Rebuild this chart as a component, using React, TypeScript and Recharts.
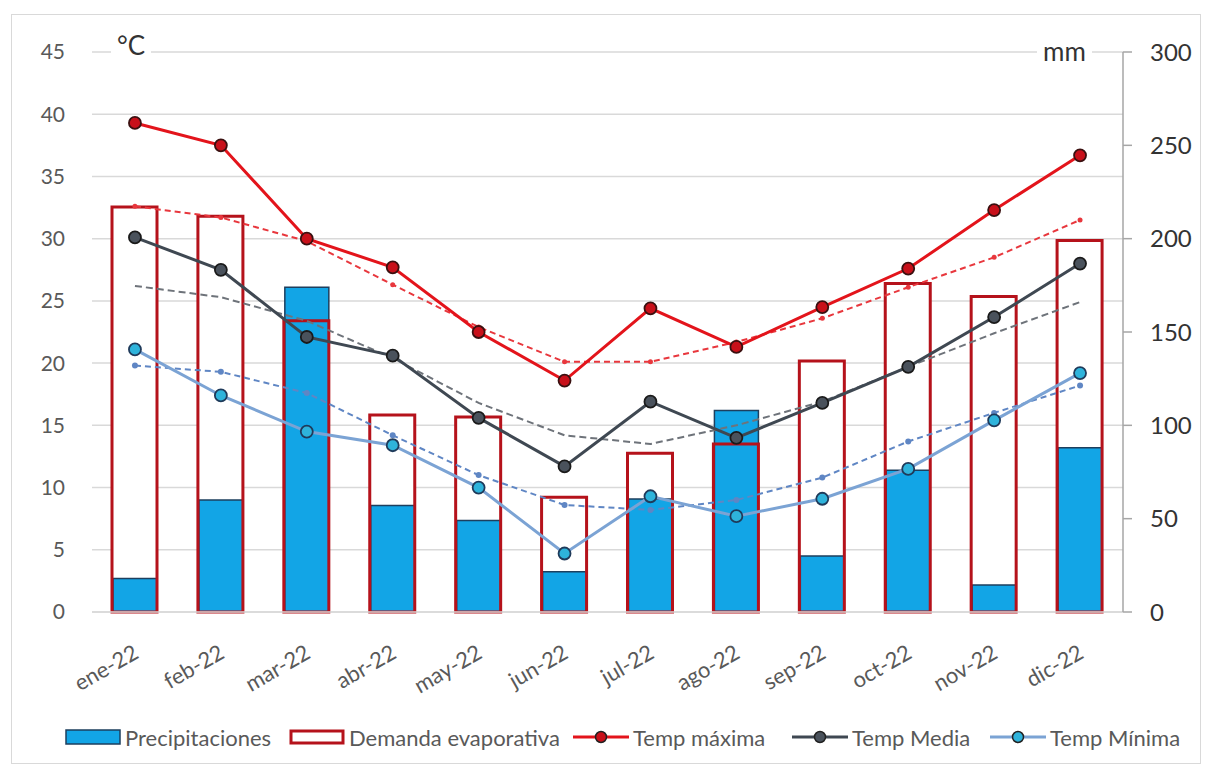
import React from 'react';
import { ComposedChart, Bar, Line, XAxis, YAxis, CartesianGrid, Legend } from 'recharts';

const months = ['ene-22', 'feb-22', 'mar-22', 'abr-22', 'may-22', 'jun-22', 'jul-22', 'ago-22', 'sep-22', 'oct-22', 'nov-22', 'dic-22'];
const precipitaciones = [18, 60, 174, 57, 49, 21.5, 60.5, 108, 30, 76, 14.5, 88];
const demandaEvaporativa = [217, 212, 156, 105.5, 104.5, 61.5, 85, 90, 134.5, 176, 169, 199];
const tempMaxima = [39.3, 37.5, 30.0, 27.7, 22.5, 18.6, 24.4, 21.3, 24.5, 27.6, 32.3, 36.7];
const tempMedia = [30.1, 27.5, 22.1, 20.6, 15.6, 11.7, 16.9, 14.0, 16.8, 19.7, 23.7, 28.0];
const tempMinima = [21.1, 17.4, 14.5, 13.4, 10.0, 4.7, 9.3, 7.7, 9.1, 11.5, 15.4, 19.2];
// dashed trend lines
const tendMaxima = [32.6, 31.7, 29.8, 26.3, 22.9, 20.1, 20.1, 21.7, 23.6, 26.1, 28.5, 31.5];
const tendMedia = [26.2, 25.3, 23.4, 20.4, 16.8, 14.2, 13.5, 15.0, 16.9, 19.7, 22.4, 24.9];
const tendMinima = [19.8, 19.3, 17.6, 14.2, 11.0, 8.6, 8.2, 9.0, 10.8, 13.7, 16.0, 18.2];

const tempTicks = [0, 5, 10, 15, 20, 25, 30, 35, 40, 45];
const mmTicks = [0, 50, 100, 150, 200, 250, 300];

const data = months.map((mes, i) => ({
  mes,
  precip: precipitaciones[i],
  demanda: demandaEvaporativa[i],
  tmax: tempMaxima[i],
  tmed: tempMedia[i],
  tmin: tempMinima[i],
  trMax: tendMaxima[i],
  trMed: tendMedia[i],
  trMin: tendMinima[i],
}));

const FONT = 'Lato, "Open Sans", sans-serif';
const TEXT = '#595959';
const RED = '#E3141B';
const DARK = '#3F4852';
const LIGHT = '#7BA3D4';
const BLUE_BAR = '#12A5E6';
const RED_BAR = '#B5121B';

const MonthTick = (props: any) => {
  const { x, y, payload } = props;
  return (
    <text
      transform={`translate(${x + 5},${y + 45}) rotate(-30)`}
      textAnchor="end"
      fontFamily={FONT}
      fontSize={22}
      fill={TEXT}
    >
      {payload.value}
    </text>
  );
};

const legendItems = [
  { name: 'Precipitaciones', kind: 'bar', left: 65 },
  { name: 'Demanda evaporativa', kind: 'box', left: 289 },
  { name: 'Temp máxima', kind: 'line', left: 573, stroke: RED, fill: '#C8101A' },
  { name: 'Temp Media', kind: 'line', left: 792, stroke: DARK, fill: '#4A525C' },
  { name: 'Temp Mínima', kind: 'line', left: 990, stroke: LIGHT, fill: '#2EB3DB' },
];

const LegendContent = () => (
  <div style={{ position: 'relative', height: 38, fontFamily: FONT, fontSize: 22, color: TEXT }}>
    {legendItems.map((it) => (
      <div
        key={it.name}
        style={{ position: 'absolute', left: it.left, top: 0, height: 38, display: 'flex', alignItems: 'center' }}
      >
        <svg width={56} height={20} style={{ marginRight: 4 }}>
          {it.kind === 'bar' && <rect x={1} y={3} width={54} height={14} fill={BLUE_BAR} stroke="#1d3f5e" strokeWidth={1.5} />}
          {it.kind === 'box' && <rect x={2} y={4} width={52} height={12} fill="#fff" stroke={RED_BAR} strokeWidth={3} />}
          {it.kind === 'line' && (
            <>
              <line x1={0} y1={10} x2={56} y2={10} stroke={it.stroke} strokeWidth={3} />
              <circle cx={28} cy={10} r={5.5} fill={it.fill} stroke="#222" strokeWidth={1.5} />
            </>
          )}
        </svg>
        <span>{it.name}</span>
      </div>
    ))}
  </div>
);

const unitStyle: React.CSSProperties = {
  position: 'absolute',
  background: '#fff',
  fontFamily: FONT,
  color: '#333',
  lineHeight: 1,
  padding: '0 6px',
};

export default function App() {
  return (
    <div style={{ position: 'absolute', left: 0, top: 0, width: 1206, height: 769, background: '#fff' }}>
      <div
        style={{
          position: 'absolute',
          left: 11,
          top: 14,
          width: 1190,
          height: 750,
          border: '1px solid #d9d9d9',
          boxSizing: 'border-box',
        }}
      />
      <ComposedChart
        width={1206}
        height={769}
        data={data}
        margin={{ top: 52, right: 0, left: 0, bottom: 13 }}
        style={{ position: 'absolute', left: 0, top: 0 }}
      >
        <CartesianGrid vertical={false} stroke="#d9d9d9" strokeWidth={1.5} yAxisId="c" xAxisId="a" />
        <XAxis
          xAxisId="a"
          dataKey="mes"
          height={106}
          interval={0}
          tickLine={false}
          axisLine={{ stroke: '#d9d9d9', strokeWidth: 1.5 }}
          tickSize={0}
          tickMargin={0}
          tick={<MonthTick />}
        />
        <XAxis xAxisId="b" dataKey="mes" hide />
        <XAxis xAxisId="c" dataKey="mes" hide />
        <YAxis
          yAxisId="c"
          orientation="left"
          width={92}
          domain={[0, 45]}
          ticks={tempTicks}
          interval={0}
          axisLine={false}
          tickLine={false}
          tickSize={0}
          tickMargin={27}
          tick={{ fontFamily: FONT, fontSize: 21, fill: TEXT }}
        />
        <YAxis
          yAxisId="mm"
          orientation="right"
          width={83}
          domain={[0, 300]}
          ticks={mmTicks}
          interval={0}
          axisLine={{ stroke: '#a6a6a6', strokeWidth: 1.5 }}
          tickLine={{ stroke: '#a6a6a6', strokeWidth: 1.5 }}
          tickSize={9}
          tickMargin={18}
          tick={{ fontFamily: FONT, fontSize: 24, fill: '#333' }}
        />
        <Bar xAxisId="a" yAxisId="mm" dataKey="demanda" barSize={45} fill="#fff" legendType="none" isAnimationActive={false} />
        <Bar
          xAxisId="b"
          yAxisId="mm"
          dataKey="precip"
          name="Precipitaciones"
          barSize={44}
          fill={BLUE_BAR}
          stroke="#1d3f5e"
          strokeWidth={1.5}
          isAnimationActive={false}
        />
        <Bar
          xAxisId="c"
          yAxisId="mm"
          dataKey="demanda"
          name="Demanda evaporativa"
          barSize={45}
          fill="none"
          stroke={RED_BAR}
          strokeWidth={3}
          isAnimationActive={false}
        />
        <Line xAxisId="a" yAxisId="c" dataKey="trMax" stroke="#E8373D" strokeWidth={2} strokeDasharray="6 4"
          dot={{ r: 2.5, fill: '#E8373D', stroke: 'none' }} legendType="none" isAnimationActive={false} />
        <Line xAxisId="a" yAxisId="c" dataKey="trMed" stroke="#6E737A" strokeWidth={2} strokeDasharray="7 4"
          dot={false} legendType="none" isAnimationActive={false} />
        <Line xAxisId="a" yAxisId="c" dataKey="trMin" stroke="#5F86C4" strokeWidth={2} strokeDasharray="6 4"
          dot={{ r: 3, fill: '#5F86C4', stroke: 'none' }} legendType="none" isAnimationActive={false} />
        <Line xAxisId="a" yAxisId="c" dataKey="tmin" name="Temp Mínima" stroke={LIGHT} strokeWidth={3}
          dot={{ r: 6, fill: '#2EB3DB', stroke: '#1F3A5A', strokeWidth: 1.8 }} isAnimationActive={false} />
        <Line xAxisId="a" yAxisId="c" dataKey="tmed" name="Temp Media" stroke={DARK} strokeWidth={3}
          dot={{ r: 6, fill: '#4A525C', stroke: '#1a1a1a', strokeWidth: 1.8 }} isAnimationActive={false} />
        <Line xAxisId="a" yAxisId="c" dataKey="tmax" name="Temp máxima" stroke={RED} strokeWidth={3}
          dot={{ r: 6, fill: '#C8101A', stroke: '#3a1010', strokeWidth: 1.8 }} isAnimationActive={false} />
        <Legend verticalAlign="bottom" height={38} content={<LegendContent />} />
      </ComposedChart>
      <div style={{ ...unitStyle, left: 111, top: 32, fontSize: 26 }}>°C</div>
      <div style={{ ...unitStyle, left: 1037, top: 38, fontSize: 26 }}>mm</div>
    </div>
  );
}
